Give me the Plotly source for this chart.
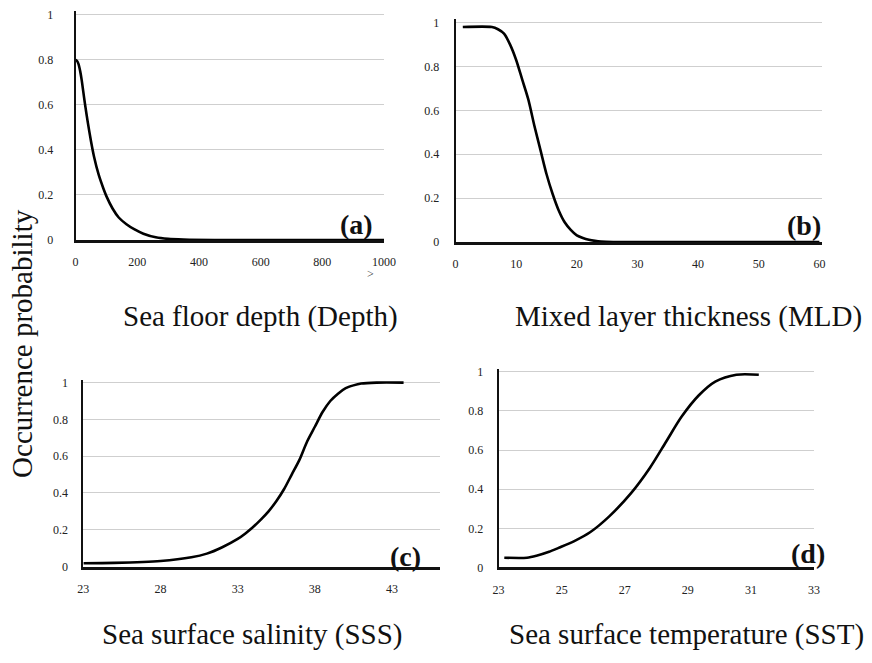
import plotly.graph_objects as go

W, H = 872, 663

# ---- data ----
depth_x = [0, 5, 10, 15, 20, 25, 30, 40, 50, 60, 75, 90, 100, 120, 140, 165, 190, 220, 260, 300, 350, 450, 1000]
depth_y = [0.80, 0.795, 0.78, 0.75, 0.71, 0.66, 0.61, 0.52, 0.44, 0.37, 0.29, 0.23, 0.195, 0.14, 0.10, 0.07,
           0.048, 0.028, 0.012, 0.005, 0.002, 0.0, 0.0]

mld_x = [1.2, 6, 7, 8, 9, 10, 11, 12, 13, 14, 15, 16, 17, 18, 19, 20, 21, 22, 23, 24, 26, 60]
mld_y = [0.98, 0.98, 0.97, 0.95, 0.90, 0.83, 0.74, 0.65, 0.53, 0.42, 0.31, 0.22, 0.145, 0.09, 0.055, 0.03,
         0.018, 0.01, 0.005, 0.002, 0.0, 0.0]

sss_x = [23, 25, 28, 30, 31, 32, 33, 33.5, 34, 34.5, 35, 35.5, 36, 36.5, 37, 37.5, 38, 38.5, 39, 39.5, 40,
         40.5, 41, 42, 43.75]
sss_y = [0.018, 0.02, 0.03, 0.05, 0.07, 0.105, 0.15, 0.18, 0.215, 0.255, 0.30, 0.355, 0.42, 0.50, 0.58, 0.68,
         0.76, 0.84, 0.90, 0.94, 0.97, 0.985, 0.995, 1.0, 1.0]

sst_x = [23.18, 23.9, 24.2, 24.6, 24.9, 25.4, 25.9, 26.5, 27.2, 27.8, 28.3, 28.8, 29.35, 29.87, 30.54, 31.25]
sst_y = [0.05, 0.05, 0.06, 0.08, 0.10, 0.135, 0.18, 0.26, 0.38, 0.51, 0.64, 0.77, 0.88, 0.95, 0.985, 0.985]

y_ticks = [0, 0.2, 0.4, 0.6, 0.8, 1]
y_labels = ["0", "0.2", "0.4", "0.6", "0.8", "1"]
depth_ticks = [0, 200, 400, 600, 800, 1000]
mld_ticks = [0, 10, 20, 30, 40, 50, 60]
sss_ticks = [23, 28, 33, 38, 43]
sst_ticks = [23, 25, 27, 29, 31, 33]

titles = ["Sea floor depth (Depth)", "Mixed layer thickness (MLD)",
          "Sea surface salinity (SSS)", "Sea surface temperature (SST)"]
panel_tags = ["(a)", "(b)", "(c)", "(d)"]
y_title = "Occurrence probability"

SERIF = "Liberation Serif"
YTOP = 1.015

panels = [
    dict(x0=71, x1=386, y1=11, y0=240, xr=[0, 1000], ticks=depth_ticks, ystand=18, xs=depth_x, ys=depth_y),
    dict(x0=459, x1=833, y1=19, y0=242, xr=[0, 60.4], ticks=mld_ticks, ystand=12, xs=mld_x, ys=mld_y),
    dict(x0=79, x1=443, y1=385, y0=572, xr=[23, 46.1], ticks=sss_ticks, ystand=11, xs=sss_x, ys=sss_y),
    dict(x0=503, x1=825, y1=374, y0=573, xr=[23, 33], ticks=sst_ticks, ystand=11, xs=sst_x, ys=sst_y),
]

fig = go.Figure()
layout = dict(width=W, height=H, margin=dict(l=0, r=0, t=0, b=0),
              paper_bgcolor="white", plot_bgcolor="white", showlegend=False)

for i, p in enumerate(panels):
    n = "" if i == 0 else str(i + 1)
    ytop_px = p["y1"] - (YTOP - 1) * (p["y0"] - p["y1"])
    xdom = [p["x0"] / W, p["x1"] / W]
    ydom = [1 - p["y0"] / H, 1 - ytop_px / H]
    layout["xaxis" + n] = dict(domain=xdom, range=p["xr"], anchor="y" + n,
                               tickvals=p["ticks"], ticktext=[str(t) for t in p["ticks"]],
                               showgrid=False, zeroline=False,
                               showline=True, linecolor="#111", linewidth=2.5,
                               ticks="", ticklabelstandoff=9,
                               tickfont=dict(family=SERIF, size=12, color="#222"))
    layout["yaxis" + n] = dict(domain=ydom, range=[0, YTOP], anchor="x" + n,
                               tickvals=y_ticks, ticktext=y_labels,
                               showgrid=True, gridcolor="#cfcfcf", gridwidth=1,
                               zeroline=False, showline=True, linecolor="#111", linewidth=2,
                               ticks="", ticklabelstandoff=p["ystand"],
                               tickfont=dict(family=SERIF, size=12, color="#222"))
    fig.add_trace(go.Scatter(x=p["xs"], y=p["ys"], mode="lines",
                             line=dict(color="black", width=2.6, shape="spline", smoothing=0.8),
                             xaxis="x" + n, yaxis="y" + n, hoverinfo="skip"))

ann = []
title_pos = [(260, 318), (697, 318), (251, 641), (695, 641)]
for t, (cx, cy) in zip(titles, title_pos):
    ann.append(dict(text=t, x=cx / W, y=1 - cy / H, xref="paper", yref="paper",
                    xanchor="center", yanchor="middle", showarrow=False,
                    font=dict(family=SERIF, size=29, color="#111")))
tag_pos = [(358, 224), (815, 225), (408, 562), (819, 559)]
for t, (cx, cy) in zip(panel_tags, tag_pos):
    ann.append(dict(text="<b>" + t + "</b>", x=cx / W, y=1 - cy / H, xref="paper", yref="paper",
                    xanchor="center", yanchor="middle", showarrow=False,
                    font=dict(family=SERIF, size=28, color="#111")))
ann.append(dict(text=y_title, x=17 / W, y=1 - 345 / H, xref="paper", yref="paper",
                xanchor="center", yanchor="middle", textangle=-90, showarrow=False,
                font=dict(family=SERIF, size=29, color="#111")))
ann.append(dict(text=">", x=372 / W, y=1 - 275 / H, xref="paper", yref="paper",
                xanchor="center", yanchor="middle", showarrow=False,
                font=dict(family=SERIF, size=12, color="#333")))
layout["annotations"] = ann

fig.update_layout(**layout)
fig.write_html("out.html")
